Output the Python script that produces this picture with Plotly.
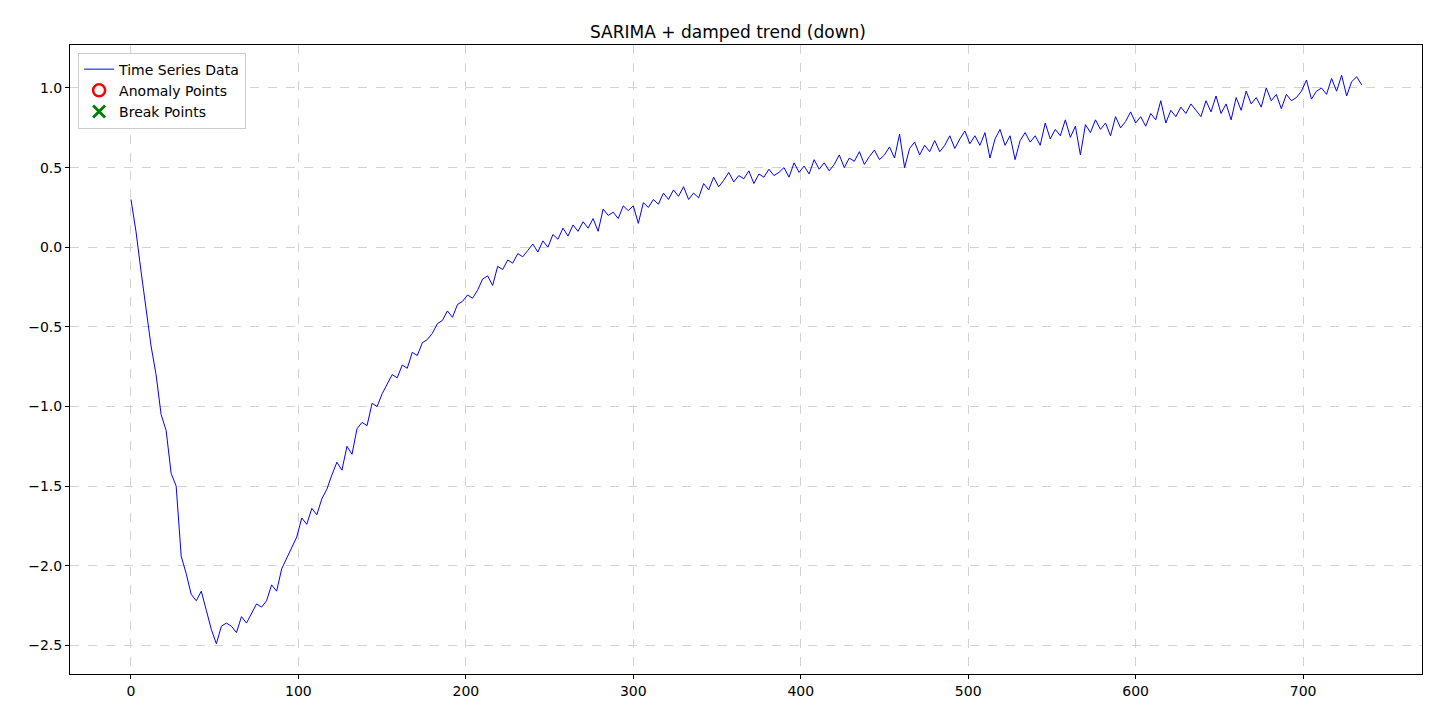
import numpy as np
import plotly.graph_objects as go

t = np.arange(0, 736, 3)
values = [
    0.30, 0.10, -0.15, -0.40, -0.62, -0.80, -1.05, -1.15, -1.42, -1.50,
    -1.94, -2.05, -2.18, -2.22, -2.16, -2.28, -2.40, -2.49, -2.38, -2.36,
    -2.38, -2.42, -2.32, -2.36, -2.30, -2.24, -2.26, -2.22, -2.12, -2.16,
    -2.02, -1.95, -1.88, -1.82, -1.70, -1.74, -1.64, -1.68, -1.58, -1.52,
    -1.43, -1.35, -1.40, -1.25, -1.30, -1.14, -1.10, -1.12, -0.98, -1.00,
    -0.92, -0.86, -0.80, -0.82, -0.74, -0.76, -0.66, -0.68, -0.60, -0.58,
    -0.54, -0.48, -0.46, -0.40, -0.44, -0.36, -0.34, -0.30, -0.32, -0.27,
    -0.20, -0.18, -0.24, -0.12, -0.14, -0.08, -0.10, -0.04, -0.06, -0.02,
    0.02, -0.03, 0.04, 0.00, 0.08, 0.05, 0.12, 0.07, 0.14, 0.10,
    0.16, 0.12, 0.18, 0.10, 0.24, 0.20, 0.22, 0.18, 0.26, 0.23,
    0.26, 0.15, 0.28, 0.25, 0.30, 0.27, 0.34, 0.30, 0.36, 0.32,
    0.38, 0.30, 0.34, 0.31, 0.40, 0.36, 0.44, 0.38, 0.42, 0.47,
    0.41, 0.45, 0.43, 0.48, 0.40, 0.46, 0.44, 0.49, 0.45, 0.47,
    0.50, 0.44, 0.53, 0.47, 0.51, 0.46, 0.55, 0.49, 0.53, 0.48,
    0.52, 0.58, 0.50, 0.56, 0.54, 0.60, 0.52, 0.57, 0.61, 0.55,
    0.58, 0.63, 0.56, 0.71, 0.50, 0.62, 0.66, 0.58, 0.64, 0.60,
    0.67, 0.60, 0.64, 0.70, 0.62, 0.68, 0.73, 0.65, 0.70, 0.64,
    0.72, 0.56, 0.68, 0.74, 0.64, 0.70, 0.55, 0.67, 0.72, 0.66,
    0.70, 0.64, 0.78, 0.68, 0.74, 0.70, 0.80, 0.69, 0.76, 0.58,
    0.77, 0.72, 0.80, 0.74, 0.78, 0.70, 0.82, 0.75, 0.79, 0.85,
    0.78, 0.82, 0.76, 0.84, 0.80, 0.92, 0.78, 0.86, 0.82, 0.88,
    0.84, 0.90, 0.86, 0.82, 0.92, 0.85, 0.95, 0.84, 0.90, 0.80,
    0.94, 0.86, 0.98, 0.90, 0.94, 0.88, 1.00, 0.92, 0.96, 0.87,
    0.96, 0.92, 0.94, 0.98, 1.05, 0.93, 0.98, 1.00, 0.96, 1.06,
    0.98, 1.08, 0.95, 1.04, 1.07, 1.02,
]
x_ticks = [0, 100, 200, 300, 400, 500, 600, 700]
y_ticks = [-2.5, -2.0, -1.5, -1.0, -0.5, 0.0, 0.5, 1.0]

fig = go.Figure()
fig.add_trace(go.Scatter(x=t, y=values, mode='lines', name='Time Series Data',
                         line=dict(color='blue', width=1)))
fig.add_trace(go.Scatter(x=[None], y=[None], mode='markers', name='Anomaly Points',
                         marker=dict(symbol='circle-open', color='red', size=12,
                                     line=dict(width=2.5, color='red'))))
fig.add_trace(go.Scatter(x=[None], y=[None], mode='markers', name='Break Points',
                         marker=dict(symbol='x-thin', size=12,
                                     line=dict(width=3, color='green'))))

axis_style = dict(showline=True, linecolor='black', mirror=True, ticks='outside',
                  ticklen=4, tickcolor='black', showgrid=True, gridcolor='#d3d3d3',
                  griddash='dash', zeroline=False, tickfont=dict(size=14, color='black'))
fig.update_xaxes(range=[-36.4, 771], tickvals=x_ticks, **axis_style)
fig.update_yaxes(range=[-2.68, 1.27], tickvals=y_ticks,
                 ticktext=[f'{v:.1f}'.replace('-', '−') for v in y_ticks], **axis_style)

fig.update_layout(
    width=1440, height=720,
    margin=dict(l=62, r=26, t=37, b=54),
    title=dict(text='SARIMA + damped trend (down)', x=0.5, y=0.975, xanchor='center',
               font=dict(size=17, color='black')),
    font=dict(family='DejaVu Sans'),
    plot_bgcolor='white', paper_bgcolor='white',
    legend=dict(x=0.006, y=0.988, xanchor='left', yanchor='top', bgcolor='white',
                bordercolor='#cccccc', borderwidth=1, font=dict(size=14, color='black')),
)
fig.write_html("out.html")
